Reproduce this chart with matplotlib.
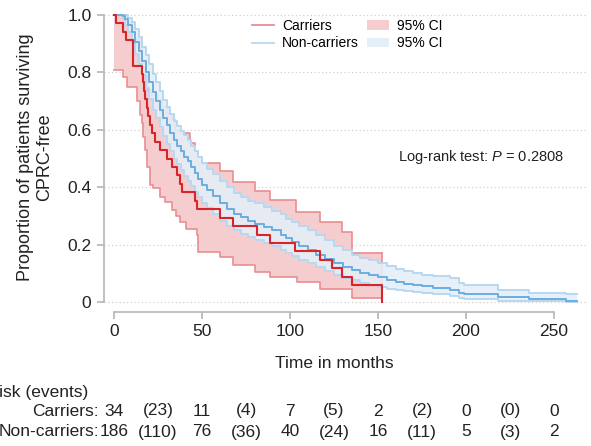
import numpy as np
import matplotlib
matplotlib.use('Agg')
import matplotlib.pyplot as plt
from matplotlib.lines import Line2D
from matplotlib.patches import Patch
from matplotlib.transforms import blended_transform_factory

plt.rcParams['font.family'] = ['Liberation Sans', 'DejaVu Sans']
plt.rcParams['mathtext.fontset'] = 'custom'
plt.rcParams['mathtext.rm'] = 'Liberation Sans'
plt.rcParams['mathtext.it'] = 'Liberation Sans:italic'

# carriers (n=34), KM steps
carr_t = [0, 1, 5.3, 6.6, 11, 15.7, 16.3, 17.2, 17.6, 18.6, 19.5, 20.2, 21.4, 23.3, 26.4,
          29.9, 32.8, 36, 37.5, 38.4, 46, 47, 60.2, 67.8, 81, 88.6, 103, 117, 124, 129.5, 135, 152]
carr_s = [1.0, 0.971, 0.941, 0.912, 0.824, 0.794, 0.765, 0.735, 0.706, 0.676, 0.647, 0.618,
          0.588, 0.559, 0.529, 0.5, 0.471, 0.441, 0.412, 0.382, 0.353, 0.324, 0.294, 0.265,
          0.235, 0.206, 0.176, 0.147, 0.118, 0.088, 0.059, 0.0]
carr_up_t = [0, 7.2, 12, 14.8, 15.7, 17.6, 19.5, 21, 25.2, 27, 30, 32.8, 34.7, 37.5, 43, 46,
             48, 49.8, 60.2, 67.8, 80, 88.6, 103.4, 117, 129.4, 135, 152]
carr_up = [1.0, 0.971, 0.918, 0.895, 0.843, 0.79, 0.74, 0.72, 0.704, 0.68, 0.655, 0.634, 0.6,
           0.588, 0.553, 0.525, 0.506, 0.483, 0.455, 0.419, 0.388, 0.355, 0.315, 0.28, 0.245,
           0.172, 0.172]
carr_lo_t = [0, 5.3, 7.2, 12.9, 14.5, 15.7, 16.6, 17.6, 18.6, 20.5, 22.3, 26, 29, 32.8, 35,
             37.5, 41, 47, 47.5, 47.9, 60.2, 67.8, 80, 88.6, 104, 117, 135, 152]
carr_lo = [0.808, 0.785, 0.75, 0.70, 0.652, 0.622, 0.575, 0.53, 0.47, 0.408, 0.396, 0.367,
           0.35, 0.32, 0.30, 0.28, 0.255, 0.233, 0.199, 0.175, 0.158, 0.129, 0.106, 0.088,
           0.071, 0.045, 0.013, 0.013]

# non-carriers (n=186)
non_t = [0, 5, 6, 8, 10, 12, 14, 16, 18, 20, 22, 24, 26, 28, 30, 32, 34, 36, 38, 40, 42, 44,
         46, 48, 50, 53, 56, 60, 64, 68, 72, 76, 80, 85, 90, 95, 98, 101, 105, 110, 115, 120,
         125, 130, 135, 140, 145, 150, 155, 160, 165, 170, 175, 181, 191, 196, 199, 218, 236,
         257, 263]
non_s = [1.0, 0.995, 0.985, 0.965, 0.94, 0.905, 0.875, 0.84, 0.80, 0.765, 0.73, 0.70, 0.67,
         0.64, 0.615, 0.59, 0.565, 0.545, 0.525, 0.505, 0.49, 0.47, 0.45, 0.43, 0.409, 0.39,
         0.37, 0.345, 0.325, 0.308, 0.295, 0.282, 0.272, 0.26, 0.25, 0.235, 0.222, 0.21, 0.195,
         0.18, 0.165, 0.15, 0.135, 0.122, 0.11, 0.10, 0.093, 0.086, 0.078, 0.07, 0.064, 0.059,
         0.055, 0.05, 0.043, 0.032, 0.027, 0.016, 0.011, 0.005, 0.005]
non_up = [1.0, 1.0, 1.0, 0.99, 0.975, 0.95, 0.924, 0.89, 0.86, 0.828, 0.795, 0.765, 0.735,
          0.705, 0.68, 0.655, 0.632, 0.613, 0.597, 0.582, 0.565, 0.545, 0.525, 0.505, 0.486,
          0.465, 0.445, 0.421, 0.40, 0.38, 0.366, 0.353, 0.344, 0.33, 0.318, 0.305, 0.29, 0.28,
          0.265, 0.25, 0.232, 0.215, 0.194, 0.18, 0.165, 0.152, 0.145, 0.137, 0.125, 0.115,
          0.108, 0.102, 0.095, 0.09, 0.083, 0.065, 0.059, 0.042, 0.032, 0.027, 0.027]
non_lo = [1.0, 0.985, 0.965, 0.94, 0.906, 0.865, 0.828, 0.79, 0.745, 0.706, 0.67, 0.64, 0.61,
          0.578, 0.549, 0.525, 0.5, 0.48, 0.46, 0.438, 0.423, 0.405, 0.385, 0.365, 0.344,
          0.327, 0.307, 0.283, 0.265, 0.25, 0.238, 0.225, 0.215, 0.205, 0.195, 0.182, 0.17,
          0.16, 0.147, 0.135, 0.122, 0.108, 0.094, 0.085, 0.075, 0.067, 0.06, 0.054, 0.047,
          0.041, 0.037, 0.034, 0.031, 0.027, 0.022, 0.014, 0.011, 0.004, 0.002, 0.001, 0.001]

# risk table
risk_times = [0, 50, 100, 150, 200, 250]
carr_risk = [34, 11, 7, 2, 0, 0]
carr_events = [23, 4, 5, 2, 0]
non_risk = [186, 76, 40, 16, 5, 2]
non_events = [110, 36, 24, 11, 3]

red_line = '#d6262c'
red_ci = '#e98e91'
red_fill = '#f5cdce'
blue_line = '#6aaee0'
blue_ci = '#b8d8f0'
blue_fill = '#e4eff8'
axis_col = '#b5b5b5'
txt_col = '#222222'


def step_at(knots, vals, grid):
    idx = np.searchsorted(knots, grid, side='right') - 1
    return np.asarray(vals)[idx]


W, H = 591, 446
fig = plt.figure(figsize=(W / 100, H / 100), dpi=100)
ax = fig.add_axes([104 / W, 1 - 312 / H, (588 - 104) / W, (312 - 9) / H])
ax.set_xlim(-5.68, 269.3)
ax.set_ylim(-0.0348, 1.0209)

# carriers CI band
grid = np.union1d(carr_up_t, carr_lo_t)
ax.fill_between(grid, step_at(carr_lo_t, carr_lo, grid), step_at(carr_up_t, carr_up, grid),
                step='post', color=red_fill, lw=0, zorder=1)
ax.step(carr_up_t, carr_up, where='post', color=red_ci, lw=1.2, zorder=1.5)
ax.step(carr_lo_t, carr_lo, where='post', color=red_ci, lw=1.2, zorder=1.5)
ax.plot([carr_up_t[-1], carr_up_t[-1]], [carr_lo[-1], carr_up[-1]], color=red_ci, lw=1.2, zorder=1.5)

# non-carriers CI band
ax.fill_between(non_t, non_lo, non_up, step='post', color=blue_fill, alpha=0.88, lw=0, zorder=2)
ax.step(non_t, non_up, where='post', color=blue_ci, lw=1.4, zorder=3)
ax.step(non_t, non_lo, where='post', color=blue_ci, lw=1.4, zorder=3)

# KM curves
ax.step(non_t, non_s, where='post', color=blue_line, lw=1.4, zorder=4)
ax.step(carr_t, carr_s, where='post', color=red_line, lw=1.5, zorder=5)

# axes styling
for s in ['top', 'right']:
    ax.spines[s].set_visible(False)
ax.spines['left'].set_bounds(0, 1)
ax.spines['bottom'].set_bounds(0, 250)
for s in ['left', 'bottom']:
    ax.spines[s].set_color(axis_col)
    ax.spines[s].set_linewidth(1.2)
ax.set_xticks(risk_times)
ax.set_yticks([0, 0.2, 0.4, 0.6, 0.8, 1.0])
ax.set_yticklabels(['0', '0.2', '0.4', '0.6', '0.8', '1.0'])
ax.tick_params(direction='out', length=5, width=1.2, color=axis_col, labelsize=12.5,
               labelcolor=txt_col, pad=4)
ax.grid(axis='y', linestyle=(0, (1, 2)), color='#d0d0d0', lw=0.9)
ax.set_axisbelow(True)

fig.text(35 / W, 1 - 157 / H, 'Proportion of patients surviving\nCPRC-free', rotation=90,
         ha='center', va='center', fontsize=13, color=txt_col, linespacing=1.2)
fig.text(334 / W, 1 - 364 / H, 'Time in months', ha='center', va='center', fontsize=12.5,
         color=txt_col)

ax.text(161.4, 0.505, 'Log-rank test: $P$ = 0.2808', ha='left', va='center', fontsize=10.5,
        color=txt_col)

handles = [Line2D([], [], color=red_ci, lw=1.3), Line2D([], [], color=blue_ci, lw=1.3),
           Patch(facecolor=red_fill, edgecolor='none'), Patch(facecolor=blue_fill, edgecolor='none')]
labels = ['Carriers', 'Non-carriers', '95% CI', '95% CI']
ax.legend(handles, labels, ncol=2, loc='upper left', bbox_to_anchor=(245 / W, 1 - 12 / H),
          bbox_transform=fig.transFigure, frameon=False, fontsize=10, borderpad=0,
          handlelength=1.6, handletextpad=0.55, columnspacing=0.6, labelspacing=0.25)

# risk table (the left part of the header is clipped by the figure edge, as in the original)
tr = blended_transform_factory(ax.transData, fig.transFigure)
fig.text(-58 / W, 1 - 392 / H, 'No. at risk (events)', ha='left', va='center', fontsize=12.5,
         color=txt_col)
rows = [('Carriers:', carr_risk, carr_events, 411), ('Non-carriers:', non_risk, non_events, 432)]
for name, risk, ev, ypx in rows:
    fig.text(99 / W, 1 - ypx / H, name, ha='right', va='center', fontsize=12.5, color=txt_col)
    for t, n in zip(risk_times, risk):
        ax.text(t, 1 - ypx / H, str(n), transform=tr, ha='center', va='center',
                fontsize=12.5, color=txt_col)
    for i, e in enumerate(ev):
        tm = (risk_times[i] + risk_times[i + 1]) / 2
        ax.text(tm, 1 - ypx / H, '(%d)' % e, transform=tr, ha='center', va='center',
                fontsize=12.5, color=txt_col)

fig.savefig('out.png', dpi=100)
